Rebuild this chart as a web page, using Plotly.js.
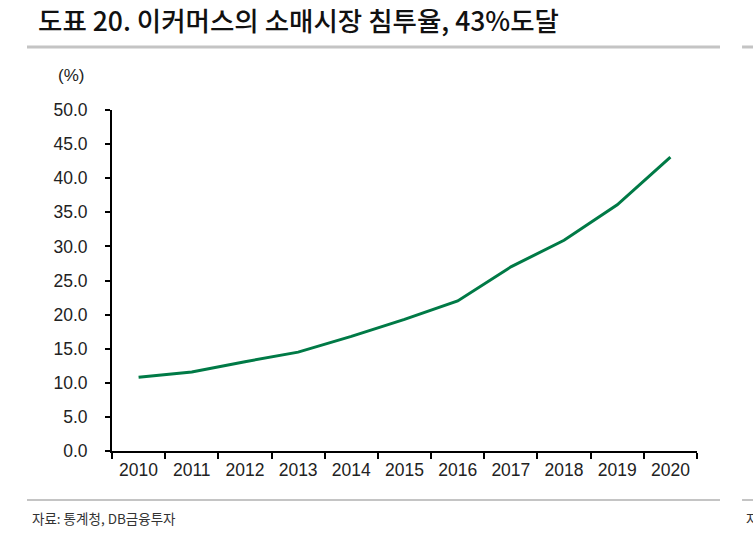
<!DOCTYPE html>
<html>
<head>
<meta charset="utf-8">
<script src="https://cdn.plot.ly/plotly-3.0.1.min.js"></script>
<style>
  html, body { margin: 0; padding: 0; background: #fff; }
  #chart { width: 753px; height: 545px; }
</style>
</head>
<body>
<div id="chart"></div>
<script>
// 이커머스 소매시장 침투율 (%)
var years = ['2010', '2011', '2012', '2013', '2014', '2015', '2016', '2017', '2018', '2019', '2020'];
var penetration = [10.8, 11.6, 13.1, 14.5, 16.8, 19.3, 22.0, 27.0, 30.9, 36.1, 43.1];
var yTicks = [0, 5, 10, 15, 20, 25, 30, 35, 40, 45, 50];
var yTickText = ['0.0', '5.0', '10.0', '15.0', '20.0', '25.0', '30.0', '35.0', '40.0', '45.0', '50.0'];

var baseFont = 'Liberation Sans, Arial, "Noto Sans CJK KR", sans-serif';
var krFont = '"Noto Sans CJK KR", "Liberation Sans", sans-serif';

var data = [{
  x: years,
  y: penetration,
  type: 'scatter',
  mode: 'lines',
  line: { color: 'rgb(0,122,70)', width: 3 },
  hoverinfo: 'x+y'
}];

// plot area: x 112..697 px, y 110..451 px
var layout = {
  width: 753,
  height: 545,
  autosize: false,
  margin: { l: 112, r: 56, t: 110, b: 94 },
  paper_bgcolor: '#fff',
  plot_bgcolor: '#fff',
  showlegend: false,
  title: {
    text: '도표 20. 이커머스의 소매시장 침투율, 43%도달',
    font: { family: krFont, size: 26.5, color: '#111', weight: 500 },
    x: 38 / 753, xanchor: 'left', xref: 'container',
    y: 1 - 22 / 545, yanchor: 'middle', yref: 'container'
  },
  xaxis: {
    type: 'category',
    range: [-0.5, 10.5],
    showgrid: false,
    zeroline: false,
    showline: true,
    linecolor: '#000',
    linewidth: 2,
    ticks: 'outside',
    tickson: 'boundaries',
    ticklen: 6,
    tickwidth: 2,
    tickcolor: '#000',
    tickfont: { family: baseFont, size: 17.5, color: '#222' },
    ticklabelstandoff: 2,
    fixedrange: true
  },
  yaxis: {
    range: [0, 50],
    tickvals: yTicks,
    ticktext: yTickText,
    showgrid: false,
    zeroline: false,
    showline: true,
    linecolor: '#000',
    linewidth: 2,
    ticks: 'outside',
    ticklen: 5,
    tickwidth: 2,
    tickcolor: '#000',
    tickfont: { family: baseFont, size: 17.5, color: '#222' },
    ticklabelstandoff: 14,
    fixedrange: true
  },
  shapes: [
    // 제목 아래 회색 선
    { type: 'line', xref: 'paper', yref: 'paper', x0: -0.1453, x1: 1.0393, y0: 1.1848, y1: 1.1848,
      line: { color: '#c4c4c4', width: 3 } },
    { type: 'line', xref: 'paper', yref: 'paper', x0: 1.077, x1: 1.1, y0: 1.1848, y1: 1.1848,
      line: { color: '#c4c4c4', width: 3 } },
    // 출처 위 회색 선
    { type: 'line', xref: 'paper', yref: 'paper', x0: -0.1453, x1: 1.0393, y0: -0.1437, y1: -0.1437,
      line: { color: '#c4c4c4', width: 2 } },
    { type: 'line', xref: 'paper', yref: 'paper', x0: 1.077, x1: 1.1, y0: -0.1437, y1: -0.1437,
      line: { color: '#c4c4c4', width: 2 } }
  ],
  annotations: [
    { text: '(%)', xref: 'paper', yref: 'paper', x: (56 - 112) / 585, y: (451 - 75) / 341,
      xanchor: 'left', yanchor: 'middle', showarrow: false,
      font: { family: baseFont, size: 17, color: '#222' } },
    { text: '자료: 통계청, DB금융투자', xref: 'paper', yref: 'paper', x: (30 - 112) / 585, y: (451 - 518) / 341,
      xanchor: 'left', yanchor: 'middle', showarrow: false,
      font: { family: krFont, size: 13.5, color: '#333' } },
    { text: '자', xref: 'paper', yref: 'paper', x: (744 - 112) / 585, y: (451 - 518) / 341,
      xanchor: 'left', yanchor: 'middle', showarrow: false,
      font: { family: krFont, size: 13.5, color: '#333' } }
  ]
};

Plotly.newPlot('chart', data, layout, { displayModeBar: false, staticPlot: true });
</script>
</body>
</html>
